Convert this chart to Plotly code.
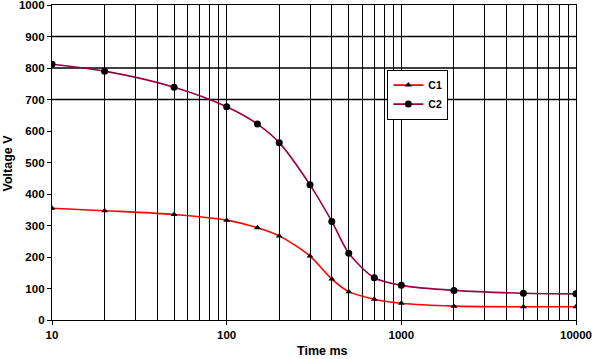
import plotly.graph_objects as go

time_ms = [10, 20, 50, 100, 150, 200, 300, 400, 500, 700, 1000, 2000, 5000, 10000]
c1 = [355, 347, 335, 317, 293, 267, 203, 130, 90, 66, 53, 44, 42, 42]
c2 = [812, 790, 739, 677, 622, 563, 429, 313, 212, 134, 110, 94, 85, 83]

y_ticks = [0, 100, 200, 300, 400, 500, 600, 700, 800, 900, 1000]
x_ticks = [10, 100, 1000, 10000]
h_grid = [700, 800, 900]

FONT = "Liberation Sans, Arial, sans-serif"

fig = go.Figure()
fig.add_trace(go.Scatter(
    x=time_ms, y=c1, name="C1", mode="lines+markers",
    line=dict(color="#FF0000", width=1.6, shape="spline", smoothing=0.8),
    marker=dict(symbol="triangle-up", size=6, color="black"),
))
fig.add_trace(go.Scatter(
    x=time_ms, y=c2, name="C2", mode="lines+markers",
    line=dict(color="#990044", width=1.6, shape="spline", smoothing=0.8),
    marker=dict(symbol="circle", size=7, color="black"),
))

for yv in h_grid:
    fig.add_shape(type="line", xref="paper", yref="y", x0=0, x1=1, y0=yv, y1=yv,
                  line=dict(color="black", width=1.3), layer="below")

fig.add_annotation(text="Voltage V", xref="paper", yref="paper", x=-0.084, y=0.5,
                   xanchor="center", yanchor="middle", textangle=-90, showarrow=False,
                   font=dict(family=FONT, size=12.5, weight="bold"))
fig.add_annotation(text="Time ms", xref="paper", yref="paper", x=0.517, y=-0.099,
                   xanchor="center", yanchor="middle", showarrow=False,
                   font=dict(family=FONT, size=12.5, weight="bold"))

fig.update_layout(
    width=594, height=359,
    margin=dict(l=52, r=18, t=5, b=39, autoexpand=False),
    paper_bgcolor="white", plot_bgcolor="white",
    font=dict(family=FONT, size=11, color="black"),
    showlegend=True,
    legend=dict(x=0.640, y=0.795, xanchor="left", yanchor="top",
                bordercolor="black", borderwidth=1, bgcolor="white",
                font=dict(family=FONT, size=10.5, weight="bold"),
                itemwidth=30, tracegroupgap=0),
    xaxis=dict(
        type="log", range=[1, 4], automargin=False,
        tickvals=x_ticks, ticktext=[str(v) for v in x_ticks],
        ticks="outside", ticklen=4, tickcolor="black",
        showline=True, linecolor="black", linewidth=1.3, mirror=True,
        showgrid=True, gridcolor="black", gridwidth=1.2,
        minor=dict(dtick="D1", showgrid=True, gridcolor="black", gridwidth=1.2, ticks=""),
        tickfont=dict(family=FONT, size=11.5, weight="bold"),
        ticklabeloverflow="allow",
        zeroline=False,
    ),
    yaxis=dict(
        range=[0, 1000], tickvals=y_ticks, automargin=False,
        ticks="outside", ticklen=4, tickcolor="black",
        showline=True, linecolor="black", linewidth=1.3, mirror=True,
        showgrid=False, zeroline=False,
        tickfont=dict(family=FONT, size=11.5, weight="bold"),
        ticklabeloverflow="allow",
    ),
)

fig.write_html("out.html", config={"displayModeBar": False},
               post_script="document.body.style.margin='0';document.body.style.overflow='hidden';")
